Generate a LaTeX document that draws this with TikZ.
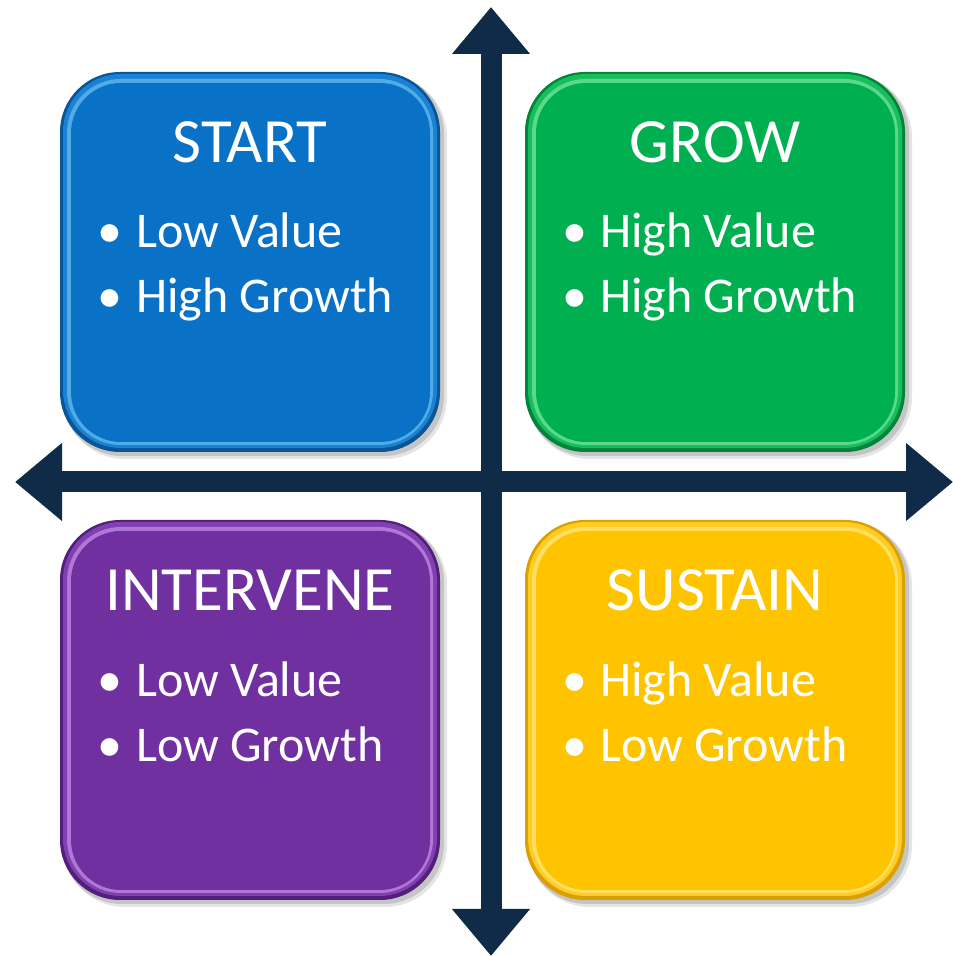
\documentclass[tikz,border=0pt]{standalone}
\usepackage{fontspec}
\setmainfont{Carlito}
\usetikzlibrary{arrows.meta,calc}
\definecolor{navy}{HTML}{0F2B47}
\definecolor{bMain}{HTML}{0A72C6}\definecolor{bDark}{HTML}{0A5596}\definecolor{bBand}{HTML}{1A82D4}\definecolor{bLight}{HTML}{7FD0F5}
\definecolor{gMain}{HTML}{00B050}\definecolor{gDark}{HTML}{00853A}\definecolor{gBand}{HTML}{18BE5E}\definecolor{gLight}{HTML}{8FF0B0}
\definecolor{pMain}{HTML}{7030A0}\definecolor{pDark}{HTML}{531F7A}\definecolor{pBand}{HTML}{8040B2}\definecolor{pLight}{HTML}{D9A6F5}
\definecolor{yMain}{HTML}{FFC400}\definecolor{yDark}{HTML}{D9A000}\definecolor{yBand}{HTML}{FFCC22}\definecolor{yLight}{HTML}{FFF09A}
\tikzset{
  qsq/.style={minimum width=380pt, minimum height=380pt, inner sep=0pt, rounded corners=60pt},
  ttl/.style={text=white, font=\fontsize{63}{63}\selectfont, anchor=base, inner sep=0pt},
  itm/.style={text=white, font=\fontsize{50}{50}\selectfont, anchor=base west, inner sep=0pt},
  bul/.style={text=white, font=\fontsize{50}{50}\selectfont, anchor=base, inner sep=0pt},
  axis/.style={line width=21pt, draw=navy, arrows={Triangle[length=47pt,width=75pt]-Triangle[length=47pt,width=75pt]}}
}
% #1 name, #2 x, #3 y, #4 colour prefix
\newcommand\qbox[4]{%
  \fill[black, opacity=.10, rounded corners=62pt] (#2-187,#3-197) rectangle (#2+197,#3+187);
  \fill[black, opacity=.14, rounded corners=60pt] (#2-188,#3-194) rectangle (#2+194,#3+188);
  \node[qsq, fill=#4Dark] (#1) at (#2,#3) {};
  \fill[#4Band, rounded corners=58pt] (#2-187,#3-186) rectangle (#2+187,#3+188);
  \fill[#4Light, opacity=.55, rounded corners=54pt] (#2-183,#3-183) rectangle (#2+183,#3+183);
  \fill[#4Main, rounded corners=50pt] (#2-179,#3-180) rectangle (#2+180,#3+179);
}
\begin{document}
\begin{tikzpicture}[x=1pt,y=1pt]
\useasboundingbox (0,0) rectangle (953,956);
\qbox{start}{250}{694}{b}
\qbox{grow}{715}{694}{g}
\qbox{interv}{250}{246}{p}
\qbox{sustain}{715}{246}{y}
% axes
\coordinate (W) at (15,474);
\coordinate (E) at (953,474);
\coordinate (N) at (491,949);
\coordinate (S) at (491,0);
\draw[axis] (W) -- (E);
\draw[axis] (S) -- (N);
% START
\node[ttl] (t1) at (250,793) {START};
\node[bul] (b1a) at (110,708) {•};
\node[itm] (i1a) at (136,708) {Low Value};
\node[bul] (b1b) at (110,643) {•};
\node[itm] (i1b) at (136,643) {High Growth};
% GROW
\node[ttl] (t2) at (715,793) {GROW};
\node[bul] (b2a) at (575,708) {•};
\node[itm] (i2a) at (600,708) {High Value};
\node[bul] (b2b) at (575,643) {•};
\node[itm] (i2b) at (600,643) {High Growth};
% INTERVENE
\node[ttl] (t3) at (250,345) {INTERVENE};
\node[bul] (b3a) at (110,259) {•};
\node[itm] (i3a) at (136,259) {Low Value};
\node[bul] (b3b) at (110,194) {•};
\node[itm] (i3b) at (136,194) {Low Growth};
% SUSTAIN
\node[ttl] (t4) at (715,345) {SUSTAIN};
\node[bul] (b4a) at (575,259) {•};
\node[itm] (i4a) at (600,259) {High Value};
\node[bul] (b4b) at (575,194) {•};
\node[itm] (i4b) at (600,194) {Low Growth};
\end{tikzpicture}
\end{document}
